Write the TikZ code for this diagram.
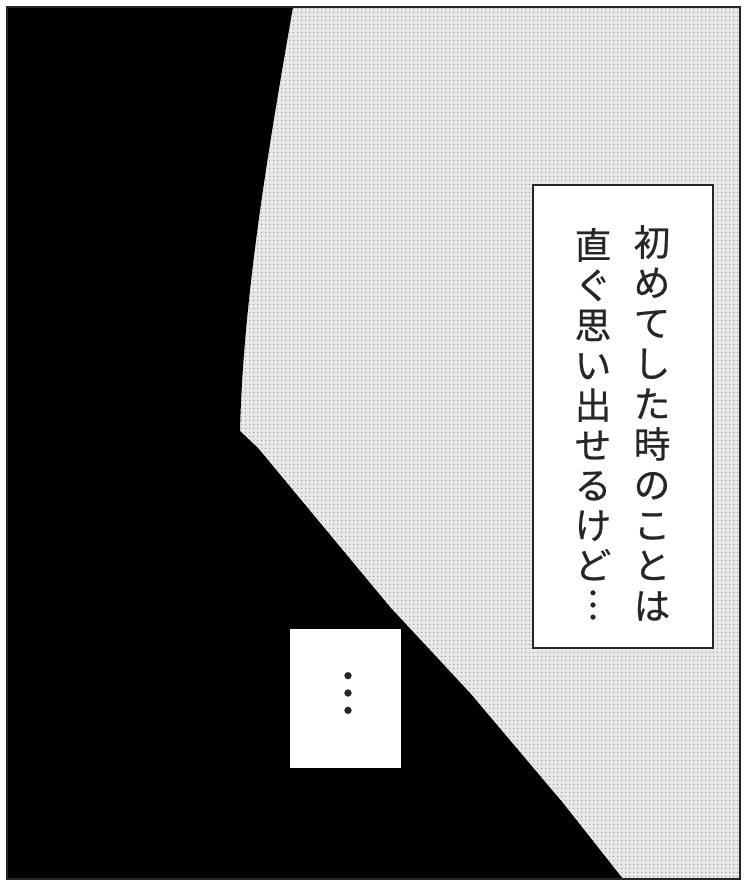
\documentclass[tikz,border=0pt]{standalone}
\usepackage{fontspec}
\newfontfamily\jpfont[FakeBold=0.6]{Noto Sans CJK JP}
\usetikzlibrary{patterns.meta}
\tikzdeclarepattern{name=tone, type=uncolored,
  bounding box={(0pt,0pt) and (4pt,4pt)}, tile size={(4pt,4pt)},
  code={\fill (2pt,2pt) circle (0.7pt);}}
\definecolor{tonebase}{gray}{0.91}
\tikzset{
  jpchar/.style={font=\jpfont\fontsize{36.5}{36.5}\selectfont, inner sep=0pt,
    text height=32.1pt, text depth=4.4pt, text=black!85},
  captionbox/.style={fill=white, draw=black!85, line width=2.5pt},
  panelframe/.style={draw=black!85, line width=2pt},
}
\begin{document}
\begin{tikzpicture}[x=1pt,y=-1pt]
\useasboundingbox (0,0) rectangle (745,886);
\fill[white] (0,0) rectangle (745,886);
% screentone background
\fill[tonebase] (7,7) rectangle (740,879);
\fill[pattern=tone, pattern color=black!45] (7,7) rectangle (740,879);
% black shape
\fill[black] (7,7) -- (293,7) .. controls (268,150) and (243,300) .. (240,431)
  -- (258,448) -- (297,495) -- (390,607) -- (470,693) -- (563,803) -- (623,879)
  -- (7,879) -- cycle;
% panel frame
\draw[panelframe] (7,7) rectangle (740,879);
% caption box
\draw[captionbox] (533,185) rectangle (713,648);
\foreach \ch [count=\i] in {初,め,て,し,た,時,の,こ,と,は}
  \node[jpchar] (a\i) at (652,{242+(\i-1)*40.4}) {\ch};
\foreach \ch [count=\i] in {直,ぐ,思,い,出,せ,る,け,ど,︙}
  \node[jpchar] (b\i) at (593,{245+(\i-1)*40.0}) {\ch};
% small white box
\fill[white] (290,629) rectangle (401,768);
\node[font=\jpfont\fontsize{52}{52}\selectfont, inner sep=0pt, text=black!85] (dots) at (348,693) {︙};
\end{tikzpicture}
\end{document}
